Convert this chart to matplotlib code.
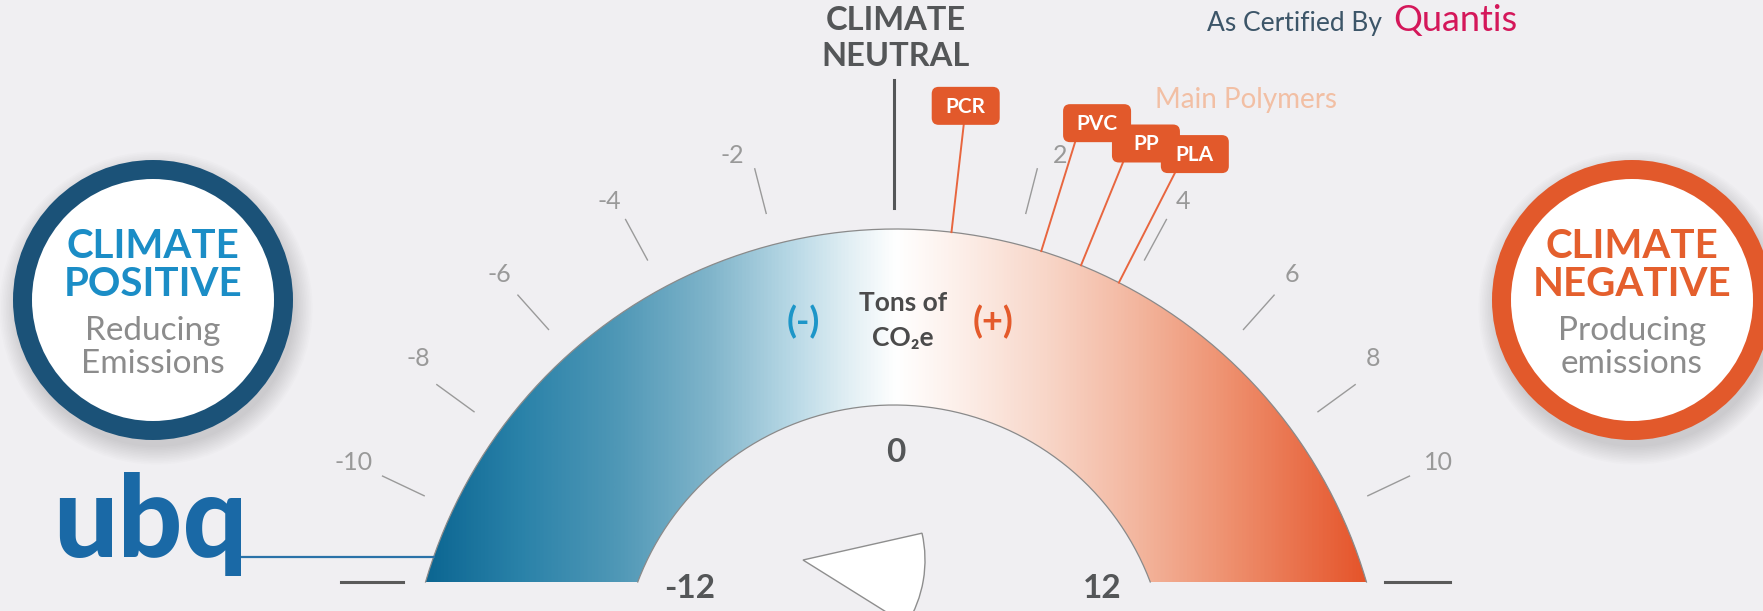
import numpy as np
import matplotlib.pyplot as plt
from matplotlib.colors import LinearSegmentedColormap
from matplotlib.patches import Circle, Wedge, FancyBboxPatch, Polygon

plt.rcParams['font.family'] = ['Lato', 'DejaVu Sans']

# data
tick_values = [-10, -8, -6, -4, -2, 2, 4, 6, 8, 10]
end_values = [-12, 0, 12]
polymers = ['PCR', 'PVC', 'PP', 'PLA']
polymer_values = [0.9, 2.4, 3.1, 3.8]
ubq_value = -11.3

# layout in pixels (figure is 1763 x 611)
W, H = 1763, 611
CX, CY, R_OUT = 896, 719, 490      # outer arc circle
ICX, ICY, R_IN = 894, 679, 274     # inner arc circle
BASE = 582
BG = '#f0eff2'
GRAY = '#999999'
DARK = '#545658'
ORANGE = '#e45a2b'
BLUE = '#1b8dc6'

# label offsets for the polymer boxes (line length, box x shift)
poly_len = [108, 114, 111, 123]
poly_dx = [2, 22, 23, 20]


def ang(v):
    # gauge scale: a bit wider near 0 than near the ends
    return np.radians(7.23 * v - 0.00762 * v ** 3)


def on_circle(v, r, shift=0.0):
    a = ang(v) + np.radians(shift)
    return CX + r * np.sin(a), CY - r * np.cos(a)


fig = plt.figure(figsize=(W / 100, H / 100), dpi=100, facecolor=BG)
ax = fig.add_axes([0, 0, 1, 1])
ax.set_facecolor(BG)
ax.axis('off')

# gradient band
a_out = np.arccos((CY - BASE) / R_OUT)
a_in = np.arccos((ICY - BASE) / R_IN)
t = np.linspace(-a_out, a_out, 300)
outer = np.column_stack([CX + R_OUT * np.sin(t), CY - R_OUT * np.cos(t)])
t2 = np.linspace(a_in, -a_in, 300)
inner = np.column_stack([ICX + R_IN * np.sin(t2), ICY - R_IN * np.cos(t2)])
band = Polygon(np.vstack([outer, inner]), closed=True, facecolor='none', edgecolor='none')
ax.add_patch(band)

cmap = LinearSegmentedColormap.from_list('gauge', [
    (0.0, '#0c6692'), (0.1, '#2a82a9'), (0.2, '#4e97b6'), (0.3, '#7fb4ca'),
    (0.39, '#b9d9e6'), (0.45, '#e2eff4'), (0.5, '#ffffff'), (0.56, '#fdf1ec'),
    (0.66, '#f8d6c8'), (0.76, '#f3b59d'), (0.86, '#ee8e6c'), (1.0, '#e5542a')])
x0, x1 = outer[0, 0], outer[-1, 0]
im = ax.imshow(np.linspace(0, 1, 512)[None, :], extent=(x0, x1, BASE, CY - R_OUT),
               cmap=cmap, aspect='auto', zorder=2)
im.set_clip_path(band)
ax.plot(outer[:, 0], outer[:, 1], color='#8a8a8a', lw=0.9, zorder=3)
ax.plot(inner[:, 0], inner[:, 1], color='#8a8a8a', lw=0.9, zorder=3)

# bottom dashes
ax.plot([341, 403], [BASE, BASE], color='#5a5a5a', lw=2.2)
ax.plot([1385, 1450], [BASE, BASE], color='#5a5a5a', lw=2.2)

# ticks and labels
for v in tick_values:
    xa, ya = on_circle(v, 522)
    xb, yb = on_circle(v, 568)
    ax.plot([xa, xb], [ya, yb], color='#9a9a9a', lw=1.0)
    rl = 582 + 20 * abs(np.sin(ang(v)))
    shift = np.sign(v) * (1.8 if abs(v) <= 2 else 0.6 if abs(v) <= 4 else 0.0)
    shift -= np.sign(v) * (1.0 if abs(v) == 8 else 0.0)
    xl, yl = on_circle(v, rl, shift)
    ax.text(xl, yl, f'{v}', ha='center', va='center', fontsize=18,
            color=GRAY)

for v in end_values:
    p = np.radians(7.5 * v)
    ax.text(CX + 206 * np.sin(p), 588 - 136 * np.cos(p), f'{v}', ha='center',
            va='center', fontsize=24, color=DARK, fontweight='bold')

# climate neutral marker
ax.plot([894, 894], [80, 208], color=DARK, lw=2.2)
ax.text(896, 21, 'CLIMATE', ha='center', va='center', fontsize=23.5,
        color=DARK, fontweight='bold')
ax.text(896, 57, 'NEUTRAL', ha='center', va='center', fontsize=23.5,
        color=DARK, fontweight='bold')

# polymers
for name, v, L, dx in zip(polymers, polymer_values, poly_len, poly_dx):
    xa, ya = on_circle(v, R_OUT)
    xb, yb = on_circle(v, R_OUT + L)
    ax.plot([xa, xb], [ya, yb], color='#e8663f', lw=1.4, zorder=4)
    bx, by = xb + dx, yb - 19
    ax.add_patch(FancyBboxPatch((bx - 34, by - 19), 68, 38,
                                boxstyle='round,pad=0,rounding_size=7',
                                facecolor='#e2592b', edgecolor='none', zorder=5))
    ax.text(bx, by + 1, name, ha='center', va='center', fontsize=15,
            color='white', fontweight='bold', zorder=6)
ax.text(1155, 100, 'Main Polymers', ha='left', va='center', fontsize=20,
        color='#f2bfa4')

# centre captions
ax.text(903, 303, 'Tons of', ha='center', va='center', fontsize=19,
        color='#4b4b4b', fontweight='bold', zorder=4)
ax.text(903, 338, 'CO₂e', ha='center', va='center', fontsize=19,
        color='#4b4b4b', fontweight='bold', zorder=4)
ax.text(803, 322, '(-)', ha='center', va='center', fontsize=26,
        color='#1d96c8', fontweight='bold', zorder=4)
ax.text(993, 322, '(+)', ha='center', va='center', fontsize=26,
        color=ORANGE, fontweight='bold', zorder=4)

# pointer
ax.add_patch(Wedge((803, 560), 122, -12.7, 32, facecolor='white',
                   edgecolor='#8e8e8e', lw=1.0, zorder=4))

# side badges
badges = [((153, 300), '#1b5278', BLUE, 'CLIMATE', 'POSITIVE', 'Reducing', 'Emissions'),
          ((1632, 300), '#e2592b', '#e45f2d', 'CLIMATE', 'NEGATIVE', 'Producing', 'emissions')]
for (bx, by), ring, tc, l1, l2, l3, l4 in badges:
    for i in range(12):
        ax.add_patch(Circle((bx + 3, by + 8), 139 + i * 1.6, facecolor='#000000',
                            edgecolor='none', alpha=0.012, zorder=1))
    ax.add_patch(Circle((bx, by), 140, facecolor=ring, edgecolor='none', zorder=2))
    ax.add_patch(Circle((bx, by), 121, facecolor='white', edgecolor='none', zorder=2))
    ax.text(bx, by - 53, l1, ha='center', va='center', fontsize=29, color=tc,
            fontweight='bold', zorder=3)
    ax.text(bx, by - 15, l2, ha='center', va='center', fontsize=29, color=tc,
            fontweight='bold', zorder=3)
    ax.text(bx, by + 31, l3, ha='center', va='center', fontsize=24, color='#8c8c8c',
            zorder=3)
    ax.text(bx, by + 64, l4, ha='center', va='center', fontsize=24, color='#8c8c8c',
            zorder=3)

# ubq logo and its marker line
xu, yu = on_circle(ubq_value, R_OUT)
ax.plot([235, xu], [yu, yu], color='#2a72a8', lw=1.6, zorder=3)
ax.text(150, yu, 'ubq', ha='center', va='baseline', fontsize=82,
        color='#1a69a6', fontweight='black', zorder=3)

# certification line at the top
ax.text(1382, 31, 'As Certified By', ha='right', va='baseline', fontsize=19,
        color='#3c5568')
ax.text(1393, 31, 'Quantis', ha='left', va='baseline', fontsize=26,
        color='#d4175a')

ax.set_xlim(0, W)
ax.set_ylim(H, 0)
fig.savefig('out.png', dpi=100, facecolor=BG)
